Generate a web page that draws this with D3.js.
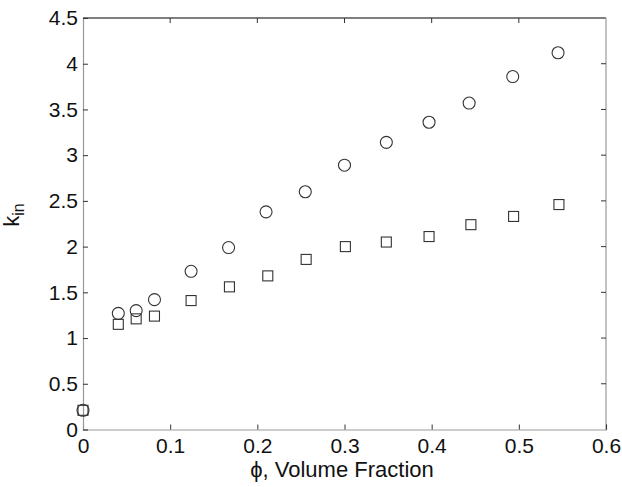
<!DOCTYPE html>
<html>
<head>
<meta charset="utf-8">
<script src="https://cdn.jsdelivr.net/npm/d3@7"></script>
<style>
  body { margin: 0; background: #fff; }
  text { font-family: "Liberation Sans", Arial, sans-serif; fill: #111; }
</style>
</head>
<body>
<div id="chart"></div>
<script>
// volume fraction (x) and k_in values
const phiCircles = [0, 0.0405, 0.061, 0.082, 0.124, 0.167, 0.210, 0.255, 0.300, 0.348, 0.397, 0.443, 0.493, 0.545];
const kCircles   = [0.21, 1.27, 1.30, 1.42, 1.73, 1.99, 2.38, 2.60, 2.89, 3.14, 3.36, 3.57, 3.86, 4.12];
const phiSquares = [0, 0.0405, 0.061, 0.082, 0.124, 0.168, 0.212, 0.256, 0.301, 0.348, 0.397, 0.445, 0.494, 0.546];
const kSquares   = [0.21, 1.15, 1.21, 1.24, 1.41, 1.56, 1.68, 1.86, 2.00, 2.05, 2.11, 2.24, 2.33, 2.46];
const xTicks = [0, 0.1, 0.2, 0.3, 0.4, 0.5, 0.6];
const yTicks = [0, 0.5, 1, 1.5, 2, 2.5, 3, 3.5, 4, 4.5];

const width = 622, height = 487;
const margin = {left: 83, right: 16, top: 18, bottom: 57.5};

const svg = d3.select('#chart').append('svg')
    .attr('width', width)
    .attr('height', height);

const x = d3.scaleLinear().domain([0, 0.6]).range([margin.left, width - margin.right]);
const y = d3.scaleLinear().domain([0, 4.5]).range([height - margin.bottom, margin.top]);

// frame
svg.append('line').attr('x1', x(0)).attr('x2', x(0.6)).attr('y1', y(4.5)).attr('y2', y(4.5))
    .style('stroke', '#555').style('stroke-width', 1.5);
svg.append('line').attr('x1', x(0.6)).attr('x2', x(0.6)).attr('y1', y(4.5)).attr('y2', y(0))
    .style('stroke', '#999').style('stroke-width', 1.2);

// axes, ticks pointing inward
const xAxis = svg.append('g')
    .attr('transform', `translate(0,${y(0)})`)
    .call(d3.axisBottom(x).tickValues(xTicks).tickSize(-5).tickPadding(9).tickFormat(d3.format('')));
const yAxis = svg.append('g')
    .attr('transform', `translate(${x(0)},0)`)
    .call(d3.axisLeft(y).tickValues(yTicks).tickSize(-5).tickPadding(5).tickFormat(d3.format('')));

[xAxis, yAxis].forEach(a => {
    a.attr('font-size', null).attr('font-family', null);
    a.select('.domain').style('stroke', '#999').style('stroke-width', 1.2);
    a.selectAll('.tick line').style('stroke', '#333');
    a.selectAll('.tick text').style('font-size', '21px').style('fill', '#111');
});
xAxis.selectAll('.tick text').attr('dy', '0.68em');
// right-side ticks (mirrored)
svg.append('g').selectAll('line').data(yTicks.slice(1, -1)).enter().append('line')
    .attr('x1', x(0.6)).attr('x2', x(0.6) - 5)
    .attr('y1', d => y(d)).attr('y2', d => y(d))
    .style('stroke', '#333');
svg.append('g').selectAll('line').data(xTicks.slice(1, -1)).enter().append('line')
    .attr('y1', y(4.5)).attr('y2', y(4.5) + 5)
    .attr('x1', d => x(d)).attr('x2', d => x(d))
    .style('stroke', '#333');

// labels
svg.append('text')
    .attr('x', 342).attr('y', 477)
    .attr('text-anchor', 'middle')
    .style('font-size', '22px')
    .text('\u03D5, Volume Fraction');

const yl = svg.append('text')
    .attr('transform', 'translate(19,215) rotate(-90)')
    .attr('text-anchor', 'middle')
    .style('font-size', '22px');
yl.append('tspan').text('k');
yl.append('tspan').attr('dy', 5).style('font-size', '16px').text('in');

// markers
const circles = phiCircles.map((p, i) => ({x: p, y: kCircles[i]}));
const squares = phiSquares.map((p, i) => ({x: p, y: kSquares[i]}));

svg.append('g').selectAll('rect').data(squares).enter().append('rect')
    .attr('x', d => x(d.x) - 5).attr('y', d => y(d.y) - 5)
    .attr('width', 10).attr('height', 10)
    .style('fill', 'none').style('stroke', '#333').style('stroke-width', 1.1);

svg.append('g').selectAll('circle').data(circles).enter().append('circle')
    .attr('cx', d => x(d.x)).attr('cy', d => y(d.y))
    .attr('r', 6)
    .style('fill', 'none').style('stroke', '#333').style('stroke-width', 1.1);
</script>
</body>
</html>
